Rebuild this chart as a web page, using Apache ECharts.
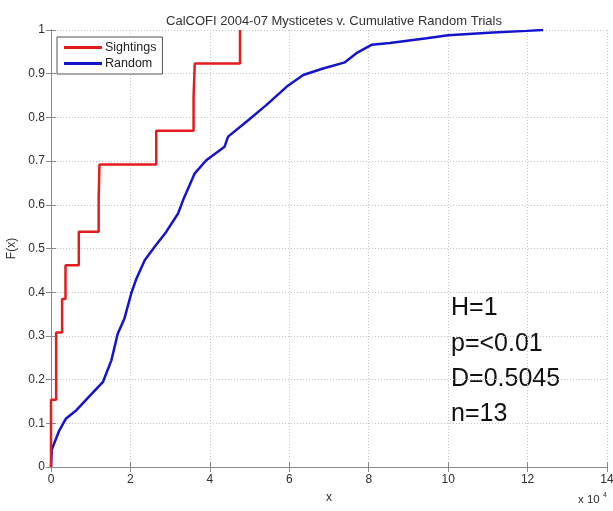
<!DOCTYPE html>
<html>
<head>
<meta charset="utf-8">
<script src="https://cdn.jsdelivr.net/npm/echarts@6/dist/echarts.min.js"></script>
<style>
html,body{margin:0;padding:0;background:#fff;}
#c{width:613px;height:511px;}
</style>
</head>
<body>
<div id="c"></div>
<script>
// x values are in units of 10^4
const titleText = 'CalCOFI 2004-07 Mysticetes v. Cumulative Random Trials';
const xTicks = [0, 2, 4, 6, 8, 10, 12, 14];
const yTicks = [0, 0.1, 0.2, 0.3, 0.4, 0.5, 0.6, 0.7, 0.8, 0.9, 1];

const sightingsX = [0, 0, 0, 0.13, 0.13, 0.28, 0.365, 0.70, 1.20, 1.22, 2.65, 3.59, 3.62, 4.76];
const sightingsF = [0, 0.0769, 0.1538, 0.2308, 0.3077, 0.3846, 0.4615, 0.5385, 0.6154, 0.6923, 0.7692, 0.8462, 0.9231, 1.0];

const randomX = [0, 0.02, 0.21, 0.38, 0.64, 0.97, 1.31, 1.52, 1.68, 1.85, 2.02, 2.15, 2.36, 2.61, 2.90, 3.20, 3.34, 3.62, 3.91, 4.37, 4.46, 4.92, 5.42, 5.93, 6.35, 6.85, 7.40, 7.69, 8.07, 8.53, 9.46, 10.0, 11.13, 11.98, 12.39];
const randomF = [0, 0.04, 0.084, 0.111, 0.13, 0.162, 0.195, 0.244, 0.305, 0.34, 0.397, 0.431, 0.473, 0.504, 0.538, 0.58, 0.614, 0.672, 0.702, 0.733, 0.756, 0.79, 0.828, 0.870, 0.897, 0.912, 0.926, 0.947, 0.966, 0.97, 0.981, 0.988, 0.994, 0.998, 1.0];

const statLines = ['H=1', 'p=<0.01', 'D=0.5045', 'n=13'];

const chart = echarts.init(document.getElementById('c'), null, {renderer: 'canvas'});
const font = 'Liberation Sans, Arial, sans-serif';
const axisCol = '#8a8a8a';
const labelCol = '#2e2e2e';

const pair = (xs, ys) => xs.map((x, i) => [x, ys[i]]);

const option = {
  animation: false,
  backgroundColor: '#fff',
  title: {
    text: titleText,
    left: 329, top: 10, textAlign: 'center',
    textStyle: {fontFamily: font, fontSize: 13, fontWeight: 'normal', color: '#333'}
  },
  legend: {
    left: 57, top: 37,
    orient: 'vertical',
    data: ['Sightings', 'Random'],
    icon: 'rect',
    itemWidth: 38, itemHeight: 3,
    itemGap: 3,
    padding: [4, 6, 4, 7],
    borderColor: '#555', borderWidth: 1,
    backgroundColor: '#fff',
    textStyle: {fontFamily: font, fontSize: 12.5, color: '#222', padding: [0, 0, 0, -2]}
  },
  grid: {left: 51, right: 6, top: 30, bottom: 44, containLabel: false, outerBoundsMode: 'none'},
  xAxis: [{
    type: 'value', min: xTicks[0], max: xTicks[xTicks.length - 1], interval: 2,
    name: 'x', nameLocation: 'middle', nameGap: 25,
    nameTextStyle: {fontFamily: font, fontSize: 12, color: labelCol},
    axisLine: {show: true, onZero: false, lineStyle: {color: axisCol, width: 1}},
    axisTick: {show: true, inside: true, length: 5, lineStyle: {color: axisCol}},
    axisLabel: {fontFamily: font, fontSize: 12, color: labelCol, margin: 7},
    splitLine: {show: true, lineStyle: {color: '#c4c4c4', type: [1, 2], width: 1}}
  }, {
    type: 'value', position: 'top', min: 0, max: 14, interval: 2,
    axisLine: {show: true, lineStyle: {color: axisCol, width: 1}},
    axisTick: {show: true, inside: true, length: 5, lineStyle: {color: axisCol}},
    axisLabel: {show: false}, splitLine: {show: false}
  }],
  yAxis: [{
    type: 'value', min: yTicks[0], max: yTicks[yTicks.length - 1], interval: 0.1,
    name: 'F(x)', nameLocation: 'middle', nameGap: 29, nameRotate: 90,
    nameTextStyle: {fontFamily: font, fontSize: 12, color: labelCol},
    axisLine: {show: true, onZero: false, lineStyle: {color: axisCol, width: 1}},
    axisTick: {show: true, inside: true, length: 5, lineStyle: {color: axisCol}},
    axisLabel: {fontFamily: font, fontSize: 12, color: labelCol, margin: 6,
      formatter: v => String(+v.toFixed(1))},
    splitLine: {show: true, lineStyle: {color: '#c4c4c4', type: [1, 2], width: 1}}
  }, {
    type: 'value', position: 'right', min: 0, max: 1, interval: 0.1,
    axisLine: {show: true, lineStyle: {color: axisCol, width: 1}},
    axisTick: {show: true, inside: true, length: 5, lineStyle: {color: axisCol}},
    axisLabel: {show: false}, splitLine: {show: false}
  }],
  series: [{
    name: 'Sightings', type: 'line', step: 'end',
    data: pair(sightingsX, sightingsF),
    showSymbol: false, symbol: 'none',
    lineStyle: {color: '#e31d1d', width: 2.5},
    itemStyle: {color: '#e31d1d'},
    z: 3
  }, {
    name: 'Random', type: 'line',
    data: pair(randomX, randomF),
    showSymbol: false, symbol: 'none',
    lineStyle: {color: '#1414cf', width: 2.5},
    itemStyle: {color: '#1414cf'},
    z: 2
  }],
  graphic: [
    {type: 'text', left: 578, top: 494,
     style: {text: 'x 10', fontFamily: font, fontSize: 11.5, fill: labelCol}},
    {type: 'text', left: 603, top: 492,
     style: {text: '4', fontFamily: font, fontSize: 7, fill: labelCol}}
  ].concat(statLines.map((t, i) => ({
    type: 'text', left: 451, top: 296 + i * 35.3,
    style: {text: t, fontFamily: 'Liberation Sans, Arial, sans-serif', fontSize: 25, fill: '#111'}
  })))
};
chart.setOption(option);
</script>
</body>
</html>
